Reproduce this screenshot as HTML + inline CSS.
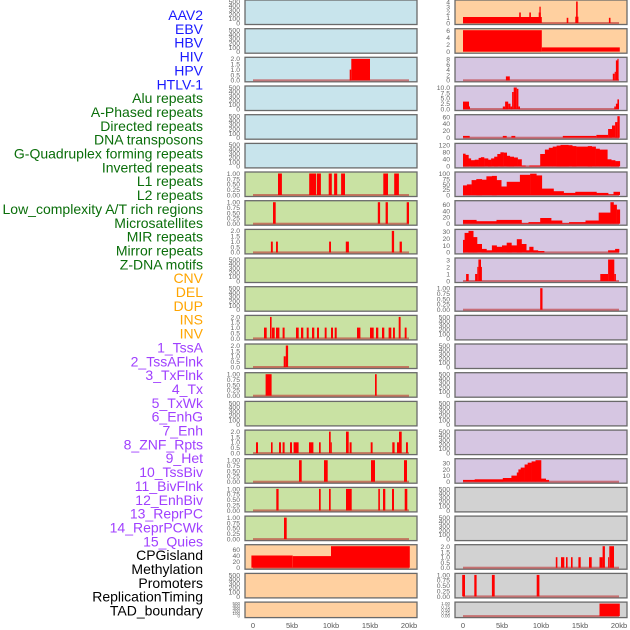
<!DOCTYPE html>
<html><head><meta charset="utf-8"><style>
html,body{margin:0;padding:0;background:#fff;}
svg{display:block;font-family:"Liberation Sans",sans-serif;}
</style></head><body>
<svg id="chart" width="630" height="630" viewBox="0 0 630 630" xmlns="http://www.w3.org/2000/svg"></svg>
<script>
// ---- track labels ----
const labelNames = ["AAV2","EBV","HBV","HIV","HPV","HTLV-1","Alu repeats","A-Phased repeats","Directed repeats","DNA transposons","G-Quadruplex forming repeats","Inverted repeats","L1 repeats","L2 repeats","Low_complexity A/T rich regions","Microsatellites","MIR repeats","Mirror repeats","Z-DNA motifs","CNV","DEL","DUP","INS","INV","1_TssA","2_TssAFlnk","3_TxFlnk","4_Tx","5_TxWk","6_EnhG","7_Enh","8_ZNF_Rpts","9_Het","10_TssBiv","11_BivFlnk","12_EnhBiv","13_ReprPC","14_ReprPCWk","15_Quies","CPGisland","Methylation","Promoters","ReplicationTiming","TAD_boundary"];
const labelGroups = [6,13,5,15,5];
const groupColors = ["#1a1aff","#0a6e0a","#ffa500","#a040ff","#000000"];

// ---- x axis ----
const xTickValues = [0,5,10,15,20];
const xTickLabels = ["0","5kb","10kb","15kb","20kb"];

// ---- tick sets ----
const T500 = [0,100,200,300,400,500];
const T1 = [0,0.25,0.5,0.75,1];
const T2 = [0,0.5,1,1.5,2];

// ---- left column data: [startKb, endKb, value] ----
const L2_bars = [[12.4,12.6,1],[12.6,15.0,2]];
const L6_bars = [[3.2,3.7,1],[7.2,8.1,1],[8.2,8.7,1],[9.7,10.1,1],[10.4,10.8,1],[11.3,11.8,1],[16.7,17.3,1],[18.1,18.7,1]];
const L7_bars = [[2.56,2.9,1],[16.0,16.3,1],[17.0,17.3,1],[19.7,20.0,1]];
const L8_bars = [[2.3,2.55,1],[2.95,3.2,1],[9.75,10.0,1],[11.9,12.3,1],[18.8,19.1,1],[17.8,18.1,2]];
const L11_bars = [[1.41,1.75,1],[2.18,2.39,2],[2.44,2.78,1],[2.95,3.38,1],[3.8,4.06,1],[5.51,5.85,1],[6.15,6.45,1],[6.88,7.14,1],[7.56,7.86,1],[8.2,8.46,1],[9.19,9.44,1],[10.0,10.26,1],[10.47,10.73,1],[13.33,13.76,1],[15.0,15.47,1],[15.77,16.07,1],[16.54,16.84,1],[17.39,17.73,1],[17.95,18.2,1],[18.68,18.93,2],[19.45,19.7,1]];
const L12_bars = [[3.93,4.2,1],[4.2,4.49,2]];
const L13_bars = [[1.62,2.39,1],[15.64,15.86,1]];
const L15_bars = [[0.38,0.64,1],[2.31,2.52,1],[3.33,3.59,1],[3.8,4.06,1],[4.74,5.0,1],[5.21,5.85,1],[7.18,7.74,1],[8.46,8.68,1],[9.74,9.96,2],[9.96,10.1,1],[11.92,12.26,2],[12.39,12.65,1],[15.09,15.34,1],[17.86,18.16,1],[18.46,18.76,1],[18.72,19.06,2],[19.62,19.87,1]];
const L16_bars = [[5.9,6.24,1],[9.1,9.57,1],[15.13,15.64,1],[19.36,19.74,1]];
const L17_bars = [[2.99,3.29,1],[8.46,8.68,1],[9.74,9.96,1],[11.92,12.65,1],[16.07,16.28,1],[16.67,16.97,1],[17.82,18.08,1],[19.45,19.78,1]];
const L18_bars = [[3.97,4.32,1]];
const L19_bars = [[-0.2,5.1,41],[5.1,10.0,39],[10.0,20.1,75]];

// ---- right column data ----
const R0_bars = [[0,10.1,1.15],[7.2,7.4,2],[8.5,8.7,2],[9.7,9.97,2],[9.8,9.97,3.1],[13.3,13.5,1],[14.5,14.7,4.2],[14.4,14.8,1.2],[18.7,18.9,1]];
const R1_bars = [[0,10.1,6.6],[10.1,20.1,1.2]];
const R2_bars = [[5.5,6.0,1.5],[19.2,19.45,2.5],[19.45,19.6,3.2],[19.6,19.8,7.5],[19.8,19.95,8.6]];
const R3_bars = [[0,0.77,3.5],[0.77,0.9,1.2],[5.1,5.4,1.2],[5.4,5.8,3.5],[5.8,6.1,2.5],[6.1,6.3,1.2],[6.3,6.5,8],[6.5,6.9,10.3],[6.9,7.1,9.5],[7.1,7.3,1.2],[19.4,19.6,1.2],[19.6,19.8,2.5],[19.8,20.0,4.5]];
const R4_bars = [[0,0.86,5],[5.1,5.6,5],[6.2,6.7,5],[12.8,17.1,5],[17.1,18.6,8],[18.6,19.1,25],[19.1,19.5,35],[19.5,19.8,45],[19.8,20.1,65]];
const R5_steps = [[0,72],[0.3,65],[0.7,45],[1.0,35],[1.5,38],[2,48],[2.3,52],[2.7,45],[3.2,38],[3.6,45],[4,55],[4.4,70],[4.8,80],[5.2,78],[5.6,60],[6,55],[6.5,50],[7,40],[7.5,5],[8,0],[8.5,5],[9.9,70],[10.5,95],[11,105],[11.5,112],[12,118],[12.5,122],[13.5,120],[14,115],[14.5,112],[16,115],[16.5,112],[17,100],[17.5,95],[18.5,40],[19,35],[19.5,30],[20.1,0]];
const R6_steps = [[0,45],[0.5,50],[1.1,70],[1.7,75],[2.4,72],[3.0,88],[3.7,90],[4.3,70],[4.9,40],[5.6,62],[7.3,95],[8.6,100],[9.4,92],[10.1,30],[11.6,18],[12.9,10],[14.4,15],[17.1,10],[18.6,3],[19.3,15],[20.1,0]];
const R7_steps = [[0,12],[1.7,8],[4.3,12],[7.5,2],[8.4,5],[9.9,18],[11.3,10],[12.7,2],[13.6,5],[15.7,10],[17.4,35],[18.9,68],[19.3,60],[19.7,45],[20.1,0]];
const R8_steps = [[0,18],[0.2,28],[0.7,31],[1.3,22],[1.8,12],[2.4,5],[3.0,3],[3.7,10],[4.3,8],[5.0,10],[5.6,14],[6.2,10],[6.9,19],[7.5,12],[8.1,3],[8.5,8],[9.0,3],[9.6,2],[10.4,0],[18.6,3],[19.5,5],[20.0,0]];
const R9_bars = [[0.4,0.73,1],[1.55,1.83,1],[1.83,1.97,2],[1.97,2.3,3.1],[2.3,2.4,2],[17.6,18.6,1],[18.6,19.4,3.1],[19.4,19.6,1]];
const R10_bars = [[9.9,10.2,1]];
const R16_steps = [[0,3],[1.5,4],[5.1,6],[6.2,10],[6.9,15],[7.1,20],[7.4,23],[7.9,28],[8.3,31],[8.8,33],[9.3,35],[10.0,5],[10.6,3],[11.0,0]];
const R19_bars = [[11.9,12.1,1],[12.56,12.98,1],[13.2,13.4,1],[13.85,14.06,1],[14.8,15.1,1],[16.15,16.5,1],[17.5,17.9,1],[17.9,18.2,2.1],[18.6,18.7,1],[18.76,19.36,2.1]];
const R20_bars = [[-0.1,0.26,1],[1.45,1.75,1],[3.7,4.06,1],[9.45,9.8,1]];
const R21_bars = [[17.5,20.1,1.1]];

const BG = {blue:"#c8e4ec",green:"#c9e2a3",orange:"#ffd0a0",purple:"#d6c6e2",gray:"#d2d2d2"};
// panels: [col,row,bg,ticks,domainMax,bars,steps,baseline,name]
const panels = [
 [0,0,"blue",T500,500,null,null,false,"aav2"],
 [0,1,"blue",T500,500,null,null,false,"ebv"],
 [0,2,"blue",T2,2,L2_bars,null,true,"hiv"],
 [0,3,"blue",T500,500,null,null,false,"hpv"],
 [0,4,"blue",T500,500,null,null,false,"htlv"],
 [0,5,"blue",T500,500,null,null,false,"virus-6"],
 [0,6,"green",T1,1,L6_bars,null,true,"l1"],
 [0,7,"green",T1,1,L7_bars,null,true,"low-complexity"],
 [0,8,"green",T2,2,L8_bars,null,true,"mir"],
 [0,9,"green",T500,500,null,null,false,"zdna"],
 [0,10,"green",T500,500,null,null,false,"cnv"],
 [0,11,"green",T2,2,L11_bars,null,true,"ins"],
 [0,12,"green",T2,2,L12_bars,null,true,"tssa"],
 [0,13,"green",T1,1,L13_bars,null,true,"txflnk"],
 [0,14,"green",T500,500,null,null,false,"txwk"],
 [0,15,"green",T2,2,L15_bars,null,true,"enh"],
 [0,16,"green",T1,1,L16_bars,null,true,"het"],
 [0,17,"green",T1,1,L17_bars,null,true,"bivflnk"],
 [0,18,"green",T1,1,L18_bars,null,true,"reprpc"],
 [0,19,"orange",[0,20,40,60],72,L19_bars,null,true,"methylation"],
 [0,20,"orange",T500,500,null,null,false,"promoters"],
 [0,21,"orange",T500,500,null,null,false,"tad"],
 [1,0,"orange",[0,1,2,3,4],4.1,R0_bars,null,true,"aav2-r"],
 [1,1,"orange",[0,2,4,6],6.1,R1_bars,null,false,"hbv-r"],
 [1,2,"purple",[0,2,4,6,8],8.1,R2_bars,null,true,"hpv-r"],
 [1,3,"purple",[0,2.5,5,7.5,10],10.1,R3_bars,null,true,"alu-r"],
 [1,4,"purple",[0,20,40,60],62,R4_bars,null,true,"directed-r"],
 [1,5,"purple",[0,40,80,120],122,null,R5_steps,true,"gquad-r"],
 [1,6,"purple",[0,25,50,75,100],101,null,R6_steps,true,"l1-r"],
 [1,7,"purple",[0,20,40,60],68,null,R7_steps,true,"lowcomp-r"],
 [1,8,"purple",[0,10,20,30],31,null,R8_steps,true,"mir-r"],
 [1,9,"purple",[0,1,2,3],3.05,R9_bars,null,true,"zdna-r"],
 [1,10,"purple",T1,1,R10_bars,null,true,"del-r"],
 [1,11,"purple",T500,500,null,null,false,"r11"],
 [1,12,"purple",T500,500,null,null,false,"r12"],
 [1,13,"purple",T500,500,null,null,false,"r13"],
 [1,14,"purple",T500,500,null,null,false,"r14"],
 [1,15,"purple",T500,500,null,null,false,"r15"],
 [1,16,"purple",[0,10,20,30],35,null,R16_steps,true,"het-r"],
 [1,17,"gray",T500,500,null,null,false,"r17"],
 [1,18,"gray",T500,500,null,null,false,"r18"],
 [1,19,"gray",T2,2.05,R19_bars,null,true,"cpg-r"],
 [1,20,"gray",T1,1,R20_bars,null,true,"promoters-r"],
 [1,21,"gray",T1,1,R21_bars,null,true,"tad-r"]
];

const NS="http://www.w3.org/2000/svg";
const svg=document.getElementById('chart');
function mk(tag,attrs,parent){const e=document.createElementNS(NS,tag);for(const k in attrs)e.setAttribute(k,attrs[k]);(parent||svg).appendChild(e);return e;}

// labels
let gi=0,cnt=0;
labelNames.forEach((n,i)=>{
  while(cnt>=labelGroups[gi]){cnt-=labelGroups[gi];gi++;}
  cnt++;
  const t=mk('text',{x:203,y:(20+i*13.85).toFixed(1),'text-anchor':'end','font-size':'14',fill:groupColors[gi]});
  
  
  t.textContent=n;
});

const COLX=[[245,417,253],[455,627,463]];
const KB=7.8;
function xScale(col,kb){return COLX[col][2]+kb*KB;}
function fmt(v,ticks){const dec=ticks.some(t=>Math.round(t*100)%100!==0)?(ticks.includes(0.25)?2:1):0;return v.toFixed(dec);}

panels.forEach(p=>{
  const [col,row,bg,ticks,dmax,bars,steps,baseline,name]=p;
  const top=row*28.67, h=row===21?15.5:24.5;
  const x0=COLX[col][0], x1=COLX[col][1];
  const g=mk('g',{});
  
  
  const r=mk('rect',{x:x0,y:top.toFixed(1),width:x1-x0,height:h,fill:BG[bg],stroke:'#6a6a6a','stroke-width':1.3},g);
  
  
  const yb=top+h-1.5, yt=top+1.5;
  const tmax=ticks[ticks.length-1];
  const yv=v=>{const vv=Math.min(v,dmax);return yb-(vv/tmax)*(yb-yt)*(tmax/dmax);};
  const fs=row===21?4.5:6.8;
  ticks.forEach(t=>{
    const tx=mk('text',{x:x0-5,y:(yv(t)+fs*0.35).toFixed(1),'text-anchor':'end','font-size':fs,fill:'#666'},g);
    
    
    tx.textContent=fmt(t,ticks);
  });
  const cl='clip'+col+'_'+row;
  const cp=mk('clipPath',{id:cl},g);
  mk('rect',{x:x0,y:top,width:x1-x0,height:h},cp);
  const dg=mk('g',{'clip-path':'url(#'+cl+')'},g);
  if(baseline){
    const bl=mk('rect',{x:xScale(col,0),y:(yb-1).toFixed(1),width:20*KB,height:2,fill:'rgba(190,50,50,0.6)'},dg);
    
    
  }
  if(bars){
    bars.forEach(b=>{
      const bx=xScale(col,b[0]), bw=(b[1]-b[0])*KB, y=yv(b[2]);
      const e=mk('rect',{x:bx.toFixed(1),y:y.toFixed(1),width:Math.max(bw,1).toFixed(1),height:(yb-y).toFixed(1),fill:'#ff0000'},dg);
      
      
    });
  }
  if(steps){
    for(let i=0;i<steps.length-1;i++){
      const s=steps[i], n=steps[i+1];
      const bx=xScale(col,s[0]), bw=(n[0]-s[0])*KB, y=yv(s[1]);
      const e=mk('rect',{x:bx.toFixed(1),y:y.toFixed(1),width:(bw+0.3).toFixed(1),height:(yb-y).toFixed(1),fill:'#ff0000'},dg);
      
      
    }
  }
});

// x axes
[0,1].forEach(col=>{
  xTickValues.forEach((v,i)=>{
    const t=mk('text',{x:xScale(col,v).toFixed(1),y:628,'text-anchor':'middle','font-size':'7.5',fill:'#555'});
    
    
    t.textContent=xTickLabels[i];
  });
});
</script>
</body></html>
